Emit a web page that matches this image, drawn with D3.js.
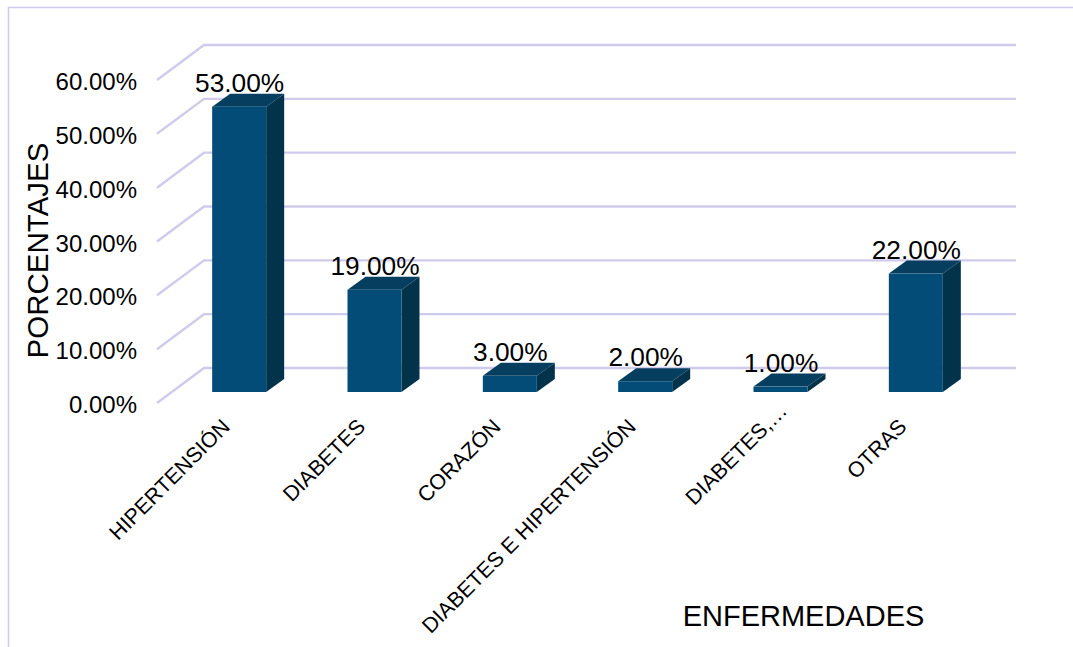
<!DOCTYPE html>
<html>
<head>
<meta charset="utf-8">
<style>
html, body { margin: 0; padding: 0; background: #fff; overflow: hidden; }
text { font-family: "Liberation Sans", Arial, sans-serif; fill: #000; }
</style>
</head>
<body>
<svg id="chart" width="1073" height="647"></svg>
<script src="https://d3js.org/d3.v7.min.js"></script>
<script>
const categories = ["HIPERTENSIÓN", "DIABETES", "CORAZÓN", "DIABETES E HIPERTENSIÓN", "DIABETES,…", "OTRAS"];
const values = [53, 19, 3, 2, 1, 22];
const ticks = [0, 10, 20, 30, 40, 50, 60];

const GRID = "#cfcbec";
const FRONT = "#044c78";
const TOP = "#053e5f";
const SIDE = "#03324b";

// back wall of the 3d box, the floor runs forward from it
const x = d3.scaleBand().domain(categories).range([204, 1016]);
const y = d3.scaleLinear().domain([0, 60]).range([368, 45]);
const pct = d => d.toFixed(2) + "%";

const floor = { dx: -47, dy: 35 };      // back wall -> front edge of floor
const bar = { dx: -32.5, dy: 24, w: 54, sx: 18, sy: 13 };  // back wall -> bar front

const svg = d3.select("#chart");

// outer frame, only top and left show
svg.append("path")
    .attr("d", "M8.5,647V7.5H1073")
    .attr("fill", "none")
    .attr("stroke", GRID)
    .attr("stroke-width", 1.5);

// gridlines with the slanted part on the floor side
svg.append("g").selectAll("path")
    .data(ticks)
    .enter()
    .append("path")
    .attr("d", d => "M" + (x.range()[0] + floor.dx) + "," + (y(d) + floor.dy) +
        "L" + x.range()[0] + "," + y(d) + "H" + x.range()[1])
    .attr("fill", "none")
    .attr("stroke", GRID)
    .attr("stroke-width", 2.4);

svg.append("g").selectAll("text")
    .data(ticks)
    .enter()
    .append("text")
    .attr("x", 137)
    .attr("y", d => y(d) + floor.dy + 10)
    .attr("text-anchor", "end")
    .style("font-size", "24px")
    .text(pct);

// bars, side and top first then the front face
const bars = svg.append("g").selectAll("g")
    .data(categories)
    .enter()
    .append("g");

function bar_left(c) { return x(c) + x.bandwidth() / 2 + bar.dx - bar.w / 2; }
function bar_top(i) { return y(values[i]) + bar.dy; }
const bar_bottom = y(0) + bar.dy;

bars.append("path")
    .attr("fill", SIDE)
    .attr("d", (c, i) => {
        let r = bar_left(c) + bar.w;
        return "M" + r + "," + bar_top(i) + "l" + bar.sx + "," + (-bar.sy) +
            "V" + (bar_bottom - bar.sy) + "L" + r + "," + bar_bottom + "Z";
    });

bars.append("path")
    .attr("fill", TOP)
    .attr("d", (c, i) => {
        let l = bar_left(c);
        return "M" + l + "," + bar_top(i) + "l" + bar.sx + "," + (-bar.sy) +
            "h" + bar.w + "l" + (-bar.sx) + "," + bar.sy + "Z";
    });

bars.append("rect")
    .attr("fill", FRONT)
    .attr("x", c => bar_left(c))
    .attr("y", (c, i) => bar_top(i))
    .attr("width", bar.w)
    .attr("height", (c, i) => bar_bottom - bar_top(i));

// value labels
svg.append("g").selectAll("text")
    .data(values)
    .enter()
    .append("text")
    .attr("x", (v, i) => x(categories[i]) + x.bandwidth() / 2 + bar.dx + 0.5)
    .attr("y", v => y(v) + bar.dy - bar.sy - 2)
    .attr("text-anchor", "middle")
    .style("font-size", "26.3px")
    .text(pct);

// category labels, the cut off one sits further along its slant
function label_shift(c) { return c.endsWith("…") ? 16 : 0; }

svg.append("g").selectAll("text")
    .data(categories)
    .enter()
    .append("text")
    .attr("text-anchor", "end")
    .attr("transform", c => "translate(" + (x(c) + x.bandwidth() / 2 + bar.dx - 8 + label_shift(c)) + "," + (428 - label_shift(c)) + ") rotate(-45)")
    .style("font-size", "21.4px")
    .text(c => c);

svg.append("text")
    .attr("transform", "translate(48,250.5) rotate(-90)")
    .attr("text-anchor", "middle")
    .style("font-size", "29.5px")
    .text("PORCENTAJES");

svg.append("text")
    .attr("x", 803.5)
    .attr("y", 626)
    .attr("text-anchor", "middle")
    .style("font-size", "29px")
    .text("ENFERMEDADES");
</script>
</body>
</html>
